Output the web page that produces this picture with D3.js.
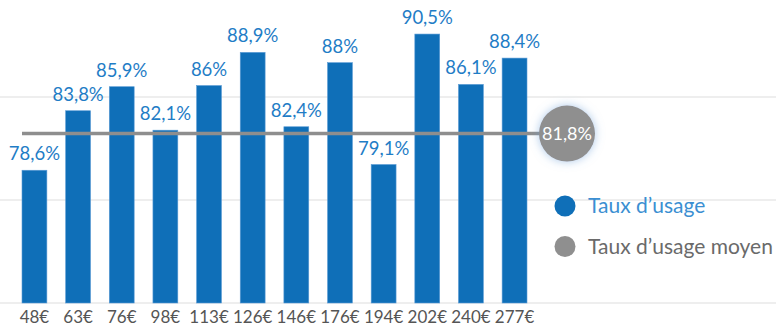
<!DOCTYPE html>
<meta charset="utf-8">
<style>
body { margin: 0; background: #fff; }
svg { display: block; font-family: Lato, "Open Sans", sans-serif; }
</style>
<body>
<div id="chart"></div>
<script src="https://d3js.org/d3.v7.min.js"></script>
<script>

// data
var prices = ["48€","63€","76€","98€","113€","126€","146€","176€","194€","202€","240€","277€"];
var usage = [78.6, 83.8, 85.9, 82.1, 86, 88.9, 82.4, 88, 79.1, 90.5, 86.1, 88.4];
var average = 81.8;
var gridValues = [67, 76, 85];
var legendLabels = ["Taux d’usage", "Taux d’usage moyen"];

var width = 776, height = 328;

var fmt = function(v) { return String(v).replace(".", ",") + "%"; };

var svg = d3.select("#chart").append("svg")
    .attr("width", width)
    .attr("height", height);

var defs = svg.append("defs");
var glow = defs.append("filter").attr("id", "glow")
    .attr("x", "-50%").attr("y", "-50%").attr("width", "200%").attr("height", "200%");
glow.append("feDropShadow")
    .attr("dx", 0).attr("dy", 0).attr("stdDeviation", 5)
    .attr("flood-color", "#6a9ed8").attr("flood-opacity", 0.55);

var x = d3.scaleBand()
    .domain(prices)
    .range([22, 527])
    .paddingInner(0.43)
    .paddingOuter(0);

var y = d3.scaleLinear()
    .domain([67, 94])
    .range([303, -6]);

// gridlines
svg.append("g").selectAll("line")
  .data(gridValues)
  .enter().append("line")
    .attr("x1", 0).attr("x2", width)
    .attr("y1", function(d) { return y(d); })
    .attr("y2", function(d) { return y(d); })
    .attr("stroke", "#e8e8e8")
    .attr("stroke-width", 1.5);

// bars
svg.append("g").selectAll("rect")
  .data(usage)
  .enter().append("rect")
    .attr("x", function(d, i) { return x(prices[i]); })
    .attr("y", function(d) { return y(d); })
    .attr("width", x.bandwidth())
    .attr("height", function(d) { return y(67) - y(d); })
    .attr("fill", "#0f6fb8")
    .attr("stroke", "#5a9bd5")
    .attr("stroke-width", 0.6);

// value labels
svg.append("g").selectAll("text")
  .data(usage)
  .enter().append("text")
    .attr("x", function(d, i) { return x(prices[i]) + x.bandwidth() / 2; })
    .attr("y", function(d) { return y(d) - 10; })
    .attr("text-anchor", "middle")
    .style("font-size", "18.5px")
    .attr("fill", "#1f7dc6")
    .text(fmt);

// x axis labels
var xAxis = svg.append("g")
    .attr("transform", "translate(0," + 303 + ")")
    .call(d3.axisBottom(x).tickSize(0).tickPadding(8));
xAxis.select(".domain").remove();
xAxis.selectAll("text")
    .attr("dy", "0.71em")
    .style("font-family", "Lato, sans-serif")
    .style("font-size", "17px")
    .attr("fill", "#555");

// average line + bubble
var bubbleX = 567;
svg.append("line")
    .attr("x1", x(prices[0])).attr("x2", bubbleX)
    .attr("y1", y(average)).attr("y2", y(average))
    .attr("stroke", "#8e8e8e")
    .attr("stroke-width", 3.5);

svg.append("circle")
    .attr("cx", bubbleX).attr("cy", y(average))
    .attr("r", 28)
    .attr("fill", "#8f8f8f")
    .attr("filter", "url(#glow)");

svg.append("text")
    .attr("x", bubbleX).attr("y", y(average))
    .attr("dy", "0.35em")
    .attr("text-anchor", "middle")
    .style("font-size", "18px")
    .attr("fill", "#fff")
    .text(fmt(average));

// legend
var legend = svg.append("g");
var legendColors = ["#0f6fb8", "#8f8f8f"];
var legendText = ["#3b8fd2", "#6a6a6a"];
legend.selectAll("circle")
  .data(legendLabels)
  .enter().append("circle")
    .attr("cx", 565)
    .attr("cy", function(d, i) { return 206 + i * 40.5; })
    .attr("r", 10.5)
    .attr("fill", function(d, i) { return legendColors[i]; });
legend.selectAll("text")
  .data(legendLabels)
  .enter().append("text")
    .attr("x", 588)
    .attr("y", function(d, i) { return 206 + i * 40.5; })
    .attr("dy", "0.35em")
    .style("font-size", "21px")
    .attr("fill", function(d, i) { return legendText[i]; })
    .text(function(d) { return d; });

</script>
</body>
